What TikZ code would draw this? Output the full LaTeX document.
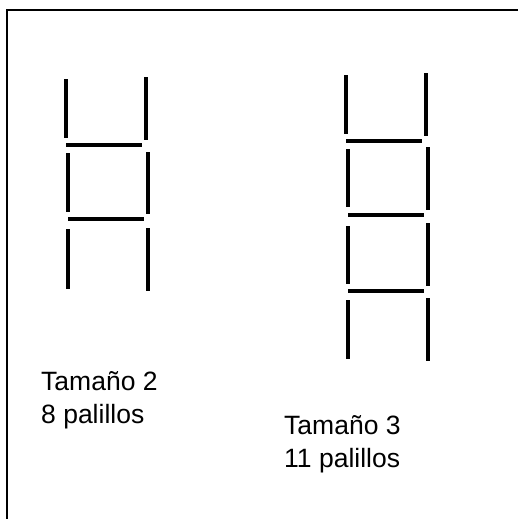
\documentclass[tikz,border=0pt]{standalone}
\usepackage{fontspec}
\setmainfont{Liberation Sans}
\usetikzlibrary{positioning}

\begin{document}
\begin{tikzpicture}[
    x=1pt, y=-1pt,
    every node/.style = {font=\fontsize{26.5}{33}\selectfont},
    stick/.style = {line width=3.6pt, line cap=butt},
    frame/.style = {line width=2pt},
    caption/.style = {anchor=base west, align=left, inner sep=0pt},
]
\useasboundingbox (0,0) rectangle (518,519);
\fill[white] (0,0) rectangle (518,519);
\draw[frame] (7,10) rectangle (540,540);

% Tamaño 2 ladder
\foreach \x/\ya/\yb in {65.7/79/138, 67.7/153/212, 67.7/229/289,
                         146/77/140, 148/152/214, 148/228/291}
  \draw[stick] (\x,\ya) -- (\x,\yb);
\foreach \y/\xa/\xb in {144.7/66/142, 219/68/144}
  \draw[stick] (\xa,\y) -- (\xb,\y);

% Tamaño 3 ladder
\foreach \x/\ya/\yb in {345.7/75/134, 347.7/149/207, 348/226/284, 347.7/300/359,
                         426/73/136, 427.7/147/210, 427.7/223/286, 427.7/298/361}
  \draw[stick] (\x,\ya) -- (\x,\yb);
\foreach \y/\xa/\xb in {140.7/346/422, 215/348/424, 291/348/424}
  \draw[stick] (\xa,\y) -- (\xb,\y);

% captions (base = last line)
\node[caption] (size2) at (41,423) {Tamaño 2\\8 palillos};
\node[caption] (size3) at (284,467) {Tamaño 3\\11 palillos};
\end{tikzpicture}
\end{document}
